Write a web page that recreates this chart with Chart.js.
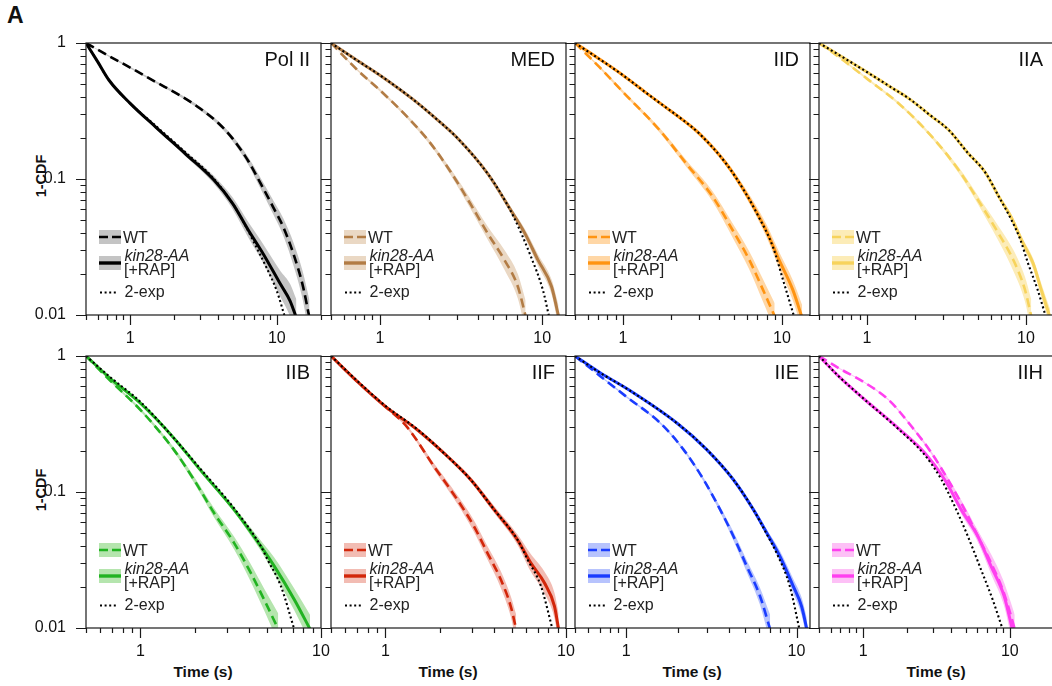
<!DOCTYPE html>
<html>
<head>
<meta charset="utf-8">
<script src="https://cdn.jsdelivr.net/npm/chart.js@4.4.0/dist/chart.umd.min.js"></script>
<style>
  body { margin: 0; width: 1052px; height: 686px; overflow: hidden; background: #fff; position: relative;
         font-family: 'Liberation Sans', Arial, Helvetica, sans-serif; }
  canvas.panel { position: absolute; }
  .lab { position: absolute; font-weight: bold; color: #111; white-space: nowrap; }
  .ytitle { transform: translate(-50%, -50%) rotate(-90deg); font-size: 14.5px; }
  .xtitle { transform: translate(-50%, -50%); font-size: 15.5px; }
</style>
</head>
<body>
<div class="lab" style="left:7px;top:2px;font-size:23px;">A</div>
<div class="lab ytitle" style="left:41px;top:176px;">1-CDF</div>
<div class="lab ytitle" style="left:41px;top:490px;">1-CDF</div>
<div class="lab xtitle" style="left:203px;top:672px;">Time (s)</div>
<div class="lab xtitle" style="left:448px;top:672px;">Time (s)</div>
<div class="lab xtitle" style="left:692px;top:672px;">Time (s)</div>
<div class="lab xtitle" style="left:936px;top:672px;">Time (s)</div>

<script>
// ---- panel setup ----
const panelTitles = ['Pol II', 'MED', 'IID', 'IIA', 'IIB', 'IIF', 'IIE', 'IIH'];
const panelXMax = [20, 14, 15, 15, 10, 10, 12, 20];
const lineColors = ['#000000', '#b27c45', '#ff9412', '#f7d35c', '#21b321', '#d2260a', '#1a3cff', '#ff3ff0'];
const bandColors = ['#c4c4c4', '#ead8c4', '#ffd7a6', '#fcecb8', '#b5e5ae', '#f2bcb3', '#b7c3fd', '#fdc0f6'];

const xTickValues = [0.5, 0.6, 0.7, 0.8, 0.9, 1, 2, 3, 4, 5, 6, 7, 8, 9, 10, 20];
const yTickValues = [0.01, 0.02, 0.03, 0.04, 0.05, 0.06, 0.07, 0.08, 0.09,
                     0.1, 0.2, 0.3, 0.4, 0.5, 0.6, 0.7, 0.8, 0.9, 1];
const xLabelValues = [1, 10];
const yLabelValues = [0.01, 0.1, 1];

// ---- Pol II ----
const polWtX  = [0.5, 0.72, 1.0, 1.5, 2.2, 3.0, 4.0, 5.0, 6.4, 7.7, 9.3, 11.1, 13, 15, 16.7];
const polWtY  = [1, 0.80, 0.66, 0.516, 0.41, 0.33, 0.257, 0.198, 0.135, 0.094, 0.064, 0.044, 0.028, 0.0166, 0.0095];
const polWtLo = [1, 0.79, 0.65, 0.506, 0.40, 0.32, 0.248, 0.189, 0.127, 0.086, 0.057, 0.038, 0.023, 0.013, 0.0068];
const polWtHi = [1, 0.81, 0.67, 0.526, 0.42, 0.34, 0.266, 0.207, 0.144, 0.103, 0.072, 0.051, 0.034, 0.021, 0.0128];
const polKinX  = [0.5, 0.6, 0.72, 1.0, 1.5, 2.4, 3.7, 5.0, 6.4, 8.1, 10.6, 12.3, 13.6];
const polKinY  = [1, 0.73, 0.53, 0.36, 0.24, 0.152, 0.099, 0.066, 0.042, 0.028, 0.0168, 0.0127, 0.0095];
const polKinLo = [1, 0.72, 0.52, 0.35, 0.233, 0.146, 0.093, 0.06, 0.037, 0.024, 0.0135, 0.0098, 0.007];
const polKinHi = [1, 0.74, 0.54, 0.37, 0.247, 0.159, 0.106, 0.073, 0.048, 0.033, 0.021, 0.017, 0.013];
const polFitX = [0.5, 0.6, 0.72, 1.0, 1.5, 2.4, 3.7, 5.0, 6.0, 7.0, 8.5, 10.0, 11.4];
const polFitY = [1, 0.73, 0.53, 0.36, 0.245, 0.156, 0.101, 0.066, 0.047, 0.034, 0.0223, 0.015, 0.0095];

// ---- MED ----
const medWtX  = [0.5, 0.73, 1.0, 1.5, 2.0, 2.7, 3.6, 4.6, 5.85, 7.07, 7.9];
const medWtY  = [1, 0.63, 0.45, 0.28, 0.19, 0.115, 0.066, 0.04, 0.0254, 0.0162, 0.0098];
const medWtLo = [1, 0.62, 0.44, 0.272, 0.183, 0.109, 0.061, 0.036, 0.0215, 0.0132, 0.0075];
const medWtHi = [1, 0.64, 0.46, 0.288, 0.197, 0.121, 0.072, 0.045, 0.030, 0.020, 0.0128];
const medKinX  = [0.5, 0.7, 1.0, 1.6, 2.2, 3.0, 4.6, 6.4, 7.8, 9.4, 11.4, 12.6];
const medKinY  = [1, 0.765, 0.58, 0.385, 0.28, 0.2, 0.11, 0.059, 0.04, 0.0254, 0.0162, 0.0098];
const medKinLo = [1, 0.76, 0.575, 0.38, 0.276, 0.196, 0.106, 0.056, 0.037, 0.023, 0.0142, 0.0082];
const medKinHi = [1, 0.77, 0.585, 0.39, 0.284, 0.204, 0.114, 0.062, 0.043, 0.028, 0.0183, 0.0118];
const medFitX = [0.5, 0.7, 1.0, 1.6, 2.2, 3.0, 4.6, 5.6, 6.7, 8.5, 10.1, 11.0];
const medFitY = [1, 0.765, 0.58, 0.385, 0.28, 0.2, 0.11, 0.077, 0.052, 0.027, 0.0152, 0.0098];

// ---- IID ----
const iidWtX  = [0.5, 0.71, 1.0, 1.7, 2.5, 3.67, 4.9, 6.24, 7.6, 9.0];
const iidWtY  = [1, 0.667, 0.437, 0.229, 0.13, 0.074, 0.042, 0.0253, 0.0153, 0.0098];
const iidWtLo = [1, 0.655, 0.425, 0.22, 0.123, 0.068, 0.037, 0.0215, 0.0125, 0.0078];
const iidWtHi = [1, 0.68, 0.45, 0.238, 0.138, 0.081, 0.047, 0.0292, 0.0183, 0.0122];
const iidKinX  = [0.5, 0.68, 1.0, 1.4, 1.87, 2.4, 3.03, 4.45, 5.94, 7.94, 9.6, 11.7, 13.4];
const iidKinY  = [1, 0.79, 0.58, 0.43, 0.335, 0.27, 0.215, 0.13, 0.078, 0.042, 0.0253, 0.0153, 0.0095];
const iidKinLo = [1, 0.78, 0.57, 0.42, 0.325, 0.261, 0.206, 0.124, 0.073, 0.038, 0.022, 0.0128, 0.0078];
const iidKinHi = [1, 0.80, 0.59, 0.44, 0.345, 0.279, 0.224, 0.137, 0.084, 0.047, 0.029, 0.018, 0.0118];
const iidFitX = [0.5, 0.68, 1.0, 1.4, 1.87, 2.4, 3.03, 4.45, 5.94, 7.0, 8.77, 10.3, 11.9];
const iidFitY = [1, 0.79, 0.58, 0.43, 0.335, 0.27, 0.215, 0.13, 0.078, 0.055, 0.0317, 0.0171, 0.0098];

// ---- IIA ----
const iiaWtX  = [0.5, 0.71, 1.0, 1.59, 2.57, 3.78, 5.16, 6.72, 8.34, 9.86, 10.8];
const iiaWtY  = [1, 0.746, 0.547, 0.358, 0.204, 0.116, 0.066, 0.0398, 0.0253, 0.0153, 0.0098];
const iiaWtLo = [1, 0.735, 0.537, 0.35, 0.198, 0.11, 0.061, 0.035, 0.021, 0.0125, 0.0075];
const iiaWtHi = [1, 0.755, 0.557, 0.366, 0.21, 0.122, 0.071, 0.045, 0.03, 0.019, 0.013];
const iiaKinX  = [0.5, 0.7, 1.0, 1.4, 1.84, 2.5, 3.27, 4.3, 5.54, 6.8, 8.1, 9.4, 11.1, 12.5, 14.2];
const iiaKinY  = [1, 0.79, 0.612, 0.477, 0.39, 0.294, 0.229, 0.156, 0.112, 0.073, 0.052, 0.0354, 0.0239, 0.0152, 0.0095];
const iiaKinLo = [1, 0.78, 0.6, 0.468, 0.382, 0.288, 0.224, 0.152, 0.108, 0.07, 0.049, 0.033, 0.0218, 0.0135, 0.0082];
const iiaKinHi = [1, 0.80, 0.622, 0.486, 0.398, 0.3, 0.234, 0.16, 0.116, 0.076, 0.055, 0.0378, 0.026, 0.017, 0.011];
const iiaFitX = [0.5, 0.7, 1.0, 1.4, 1.84, 2.5, 3.27, 4.3, 5.54, 6.8, 8.1, 9.2, 10.3, 11.8, 13.4];
const iiaFitY = [1, 0.79, 0.612, 0.477, 0.39, 0.294, 0.229, 0.156, 0.112, 0.073, 0.05, 0.036, 0.024, 0.0155, 0.0095];

// ---- IIB ----
const iibWtX  = [0.5, 0.68, 1.0, 1.53, 1.98, 2.56, 3.3, 4.08, 4.84, 5.8];
const iibWtY  = [1, 0.66, 0.402, 0.205, 0.123, 0.070, 0.0423, 0.0255, 0.0162, 0.0098];
const iibWtLo = [1, 0.65, 0.392, 0.198, 0.117, 0.065, 0.038, 0.022, 0.0135, 0.0078];
const iibWtHi = [1, 0.67, 0.412, 0.213, 0.13, 0.076, 0.047, 0.0295, 0.0195, 0.0128];
const iibKinX  = [0.5, 0.68, 1.0, 1.53, 2.15, 3.3, 4.64, 5.51, 7.11, 8.7];
const iibKinY  = [1, 0.686, 0.45, 0.25, 0.145, 0.0742, 0.040, 0.0285, 0.0162, 0.0098];
const iibKinLo = [1, 0.68, 0.445, 0.245, 0.141, 0.071, 0.037, 0.025, 0.0135, 0.0078];
const iibKinHi = [1, 0.692, 0.455, 0.255, 0.149, 0.078, 0.044, 0.033, 0.0195, 0.0125];
const iibFitX = [0.5, 0.68, 1.0, 1.53, 2.15, 3.3, 4.64, 5.06, 5.99, 7.11];
const iibFitY = [1, 0.70, 0.46, 0.25, 0.148, 0.076, 0.040, 0.0318, 0.0204, 0.0098];

// ---- IIF ----
const iifWtX  = [0.5, 0.7, 1.0, 1.32, 1.86, 2.5, 3.09, 3.67, 4.35, 4.94, 5.3];
const iifWtY  = [1, 0.648, 0.425, 0.3, 0.154, 0.088, 0.056, 0.0357, 0.0228, 0.0145, 0.0098];
const iifWtLo = [1, 0.64, 0.418, 0.293, 0.146, 0.082, 0.051, 0.032, 0.0198, 0.0122, 0.0078];
const iifWtHi = [1, 0.656, 0.432, 0.307, 0.162, 0.095, 0.062, 0.040, 0.0262, 0.0172, 0.0125];
const iifKinX  = [0.5, 0.7, 1.0, 1.5, 2.11, 2.97, 4.0, 5.38, 6.38, 7.59, 8.63, 9.1];
const iifKinY  = [1, 0.648, 0.425, 0.287, 0.193, 0.123, 0.0742, 0.0447, 0.0301, 0.0215, 0.0145, 0.0098];
const iifKinLo = [1, 0.64, 0.418, 0.28, 0.187, 0.118, 0.07, 0.041, 0.026, 0.018, 0.0118, 0.0078];
const iifKinHi = [1, 0.656, 0.432, 0.294, 0.199, 0.129, 0.079, 0.049, 0.035, 0.026, 0.0182, 0.0128];
const iifFitX = [0.5, 0.7, 1.0, 1.5, 2.11, 2.97, 4.0, 5.38, 6.13, 7.26, 8.42];
const iifFitY = [1, 0.655, 0.43, 0.29, 0.193, 0.123, 0.0742, 0.0447, 0.0318, 0.0204, 0.0098];

// ---- IIE ----
const iieWtX  = [0.5, 0.71, 1.0, 1.59, 2.17, 2.85, 3.56, 4.26, 5.1, 6.1, 7.0];
const iieWtY  = [1, 0.705, 0.503, 0.32, 0.205, 0.123, 0.0742, 0.0473, 0.0285, 0.0172, 0.0098];
const iieWtLo = [1, 0.698, 0.496, 0.314, 0.2, 0.119, 0.071, 0.044, 0.0258, 0.0148, 0.0078];
const iieWtHi = [1, 0.712, 0.51, 0.326, 0.21, 0.127, 0.078, 0.051, 0.0315, 0.0198, 0.0125];
const iieKinX  = [0.5, 0.71, 1.0, 1.99, 2.97, 4.26, 5.58, 6.69, 7.98, 9.56, 10.7, 11.5];
const iieKinY  = [1, 0.746, 0.579, 0.32, 0.205, 0.123, 0.0742, 0.050, 0.0337, 0.0203, 0.0145, 0.0098];
const iieKinLo = [1, 0.74, 0.572, 0.315, 0.2, 0.119, 0.071, 0.047, 0.031, 0.018, 0.0125, 0.0082];
const iieKinHi = [1, 0.752, 0.586, 0.325, 0.21, 0.127, 0.078, 0.053, 0.037, 0.023, 0.0168, 0.0118];
const iieFitX = [0.5, 0.71, 1.0, 1.99, 2.97, 4.26, 5.58, 6.69, 7.63, 9.13, 10.4];
const iieFitY = [1, 0.746, 0.579, 0.32, 0.205, 0.123, 0.0742, 0.049, 0.0357, 0.0203, 0.0098];

// ---- IIH ----
const iihWtX  = [0.5, 0.685, 1.0, 1.49, 2.14, 2.93, 3.79, 4.92, 6.05, 7.44, 8.93, 10.2, 10.8];
const iihWtY  = [1, 0.812, 0.648, 0.476, 0.303, 0.193, 0.123, 0.0742, 0.0473, 0.0301, 0.0192, 0.0122, 0.0098];
const iihWtLo = [1, 0.806, 0.642, 0.47, 0.297, 0.188, 0.118, 0.07, 0.043, 0.026, 0.016, 0.0098, 0.0078];
const iihWtHi = [1, 0.818, 0.654, 0.482, 0.309, 0.198, 0.128, 0.079, 0.052, 0.035, 0.023, 0.0152, 0.0125];
const iihKinX  = [0.5, 0.685, 1.0, 1.74, 2.64, 3.6, 4.66, 6.05, 7.44, 9.14, 10.4];
const iihKinY  = [1, 0.705, 0.489, 0.294, 0.193, 0.123, 0.0742, 0.0473, 0.0285, 0.0172, 0.0098];
const iihKinLo = [1, 0.7, 0.482, 0.288, 0.187, 0.117, 0.069, 0.043, 0.025, 0.0145, 0.0078];
const iihKinHi = [1, 0.71, 0.496, 0.3, 0.199, 0.13, 0.08, 0.052, 0.0325, 0.0205, 0.0125];
const iihFitX = [0.5, 0.685, 1.0, 1.74, 2.64, 3.42, 4.21, 5.17, 6.36, 7.63, 8.93];
const iihFitY = [1, 0.705, 0.489, 0.29, 0.186, 0.123, 0.0785, 0.0473, 0.0269, 0.0162, 0.0098];

const panels = [
  { wt: [polWtX, polWtY, polWtLo, polWtHi], kin: [polKinX, polKinY, polKinLo, polKinHi], fit: [polFitX, polFitY] },
  { wt: [medWtX, medWtY, medWtLo, medWtHi], kin: [medKinX, medKinY, medKinLo, medKinHi], fit: [medFitX, medFitY] },
  { wt: [iidWtX, iidWtY, iidWtLo, iidWtHi], kin: [iidKinX, iidKinY, iidKinLo, iidKinHi], fit: [iidFitX, iidFitY] },
  { wt: [iiaWtX, iiaWtY, iiaWtLo, iiaWtHi], kin: [iiaKinX, iiaKinY, iiaKinLo, iiaKinHi], fit: [iiaFitX, iiaFitY] },
  { wt: [iibWtX, iibWtY, iibWtLo, iibWtHi], kin: [iibKinX, iibKinY, iibKinLo, iibKinHi], fit: [iibFitX, iibFitY] },
  { wt: [iifWtX, iifWtY, iifWtLo, iifWtHi], kin: [iifKinX, iifKinY, iifKinLo, iifKinHi], fit: [iifFitX, iifFitY] },
  { wt: [iieWtX, iieWtY, iieWtLo, iieWtHi], kin: [iieKinX, iieKinY, iieKinLo, iieKinHi], fit: [iieFitX, iieFitY] },
  { wt: [iihWtX, iihWtY, iihWtLo, iihWtHi], kin: [iihKinX, iihKinY, iihKinLo, iihKinHi], fit: [iihFitX, iihFitY] },
];

// layout of the plot boxes on the page
const colLeft = [86, 331, 575, 819];
const rowTop = [43, 356];
const plotW = 235, plotH = 272;
const padL = 60, padT = 30, padR = 30, padB = 40;

const FONT = "'Liberation Sans', Arial, Helvetica, sans-serif";
Chart.defaults.font.family = FONT;
Chart.defaults.color = '#111';

function isMajor(v) {
  const l = Math.log10(v);
  return Math.abs(l - Math.round(l)) < 1e-9;
}
function pts(xs, ys) {
  return xs.map((x, k) => ({ x: x, y: ys[k] }));
}

// box, tick marks, panel name and legend
const framePlugin = {
  id: 'frame',
  afterDraw(chart, args, o) {
    const { ctx, chartArea: a, scales } = chart;
    const L = a.left, R = a.right, T = a.top, B = a.bottom;
    ctx.save();
    ctx.strokeStyle = '#1a1a1a';
    ctx.lineWidth = 1.2;
    ctx.setLineDash([]);
    ctx.strokeRect(L, T, R - L, B - T);
    ctx.beginPath();
    scales.x.ticks.forEach(t => {
      const px = Math.round(scales.x.getPixelForValue(t.value)) + 0.5;
      ctx.moveTo(px, B);
      ctx.lineTo(px, B + (isMajor(t.value) ? 10 : 5));
    });
    scales.y.ticks.forEach(t => {
      const py = Math.round(scales.y.getPixelForValue(t.value)) + 0.5;
      ctx.moveTo(L, py);
      ctx.lineTo(L - (isMajor(t.value) ? 10 : 5.5), py);
    });
    ctx.stroke();

    // panel name
    ctx.fillStyle = '#111';
    ctx.font = '20px ' + FONT;
    ctx.textAlign = 'right';
    ctx.textBaseline = 'alphabetic';
    ctx.fillText(o.title, R - 11, T + 23);

    // legend
    ctx.fillStyle = o.band;
    ctx.fillRect(L + 13, B - 85, 22, 14);
    ctx.fillRect(L + 13, B - 59, 22, 14);
    ctx.strokeStyle = o.line;
    ctx.lineWidth = 2.6;
    ctx.setLineDash([9, 4]);
    ctx.beginPath(); ctx.moveTo(L + 13, B - 78); ctx.lineTo(L + 35, B - 78); ctx.stroke();
    ctx.setLineDash([]);
    ctx.lineWidth = 3.4;
    ctx.beginPath(); ctx.moveTo(L + 13, B - 52); ctx.lineTo(L + 35, B - 52); ctx.stroke();
    ctx.strokeStyle = '#000';
    ctx.lineWidth = 2;
    ctx.setLineDash([2, 2.6]);
    ctx.beginPath(); ctx.moveTo(L + 14, B - 22.5); ctx.lineTo(L + 32, B - 22.5); ctx.stroke();
    ctx.setLineDash([]);

    ctx.fillStyle = '#222';
    ctx.textAlign = 'left';
    ctx.font = '16px ' + FONT;
    ctx.fillText('WT', L + 37, B - 72.5);
    ctx.fillText('[+RAP]', L + 38, B - 40);
    ctx.fillText('2-exp', L + 38.5, B - 18);
    ctx.font = 'italic 16px ' + FONT;
    ctx.fillText('kin28-AA', L + 38.5, B - 54.5);
    ctx.restore();
  }
};

panels.forEach((p, i) => {
  const col = i % 4, row = Math.floor(i / 4);
  const line = lineColors[i], band = bandColors[i];
  const cv = document.createElement('canvas');
  cv.className = 'panel';
  cv.width = padL + plotW + padR;
  cv.height = padT + plotH + padB;
  cv.style.left = (colLeft[col] - padL) + 'px';
  cv.style.top = (rowTop[row] - padT) + 'px';
  document.body.appendChild(cv);

  const base = { pointRadius: 0, pointHoverRadius: 0, cubicInterpolationMode: 'monotone', borderCapStyle: 'butt' };
  const edge = { borderWidth: 0, borderColor: 'rgba(0,0,0,0)' };

  new Chart(cv, {
    type: 'line',
    data: {
      datasets: [
        { ...base, ...edge, data: pts(p.wt[0], p.wt[2]), fill: false, order: 3 },
        { ...base, ...edge, data: pts(p.wt[0], p.wt[3]), fill: '-1', backgroundColor: band, order: 3 },
        { ...base, ...edge, data: pts(p.kin[0], p.kin[2]), fill: false, order: 3 },
        { ...base, ...edge, data: pts(p.kin[0], p.kin[3]), fill: '-1', backgroundColor: band, order: 3 },
        { ...base, data: pts(p.wt[0], p.wt[1]), borderColor: line, borderWidth: 2.6, borderDash: [9, 5], fill: false, order: 2 },
        { ...base, data: pts(p.kin[0], p.kin[1]), borderColor: line, borderWidth: 3, fill: false, order: 1 },
        { ...base, data: pts(p.fit[0], p.fit[1]), borderColor: '#000', borderWidth: 2.1, borderDash: [2, 2.6], fill: false, order: 0 },
      ]
    },
    options: {
      responsive: false,
      animation: false,
      events: [],
      layout: { padding: { left: 0, top: padT, right: padR, bottom: 0 } },
      plugins: {
        legend: { display: false },
        tooltip: { enabled: false },
        frame: { title: panelTitles[i], line: line, band: band },
      },
      scales: {
        x: {
          type: 'logarithmic',
          min: 0.5,
          max: panelXMax[i],
          grid: { display: false },
          border: { display: false },
          afterBuildTicks: s => { s.ticks = xTickValues.filter(v => v <= panelXMax[i]).map(v => ({ value: v })); },
          afterFit: s => { s.height = padB; },
          ticks: {
            autoSkip: false, maxRotation: 0, minRotation: 0, padding: 6,
            color: '#111', font: { size: 16 },
            callback: v => xLabelValues.includes(v) ? String(v) : '',
          },
        },
        y: {
          type: 'logarithmic',
          min: 0.01,
          max: 1,
          grid: { display: false },
          border: { display: false },
          afterBuildTicks: s => { s.ticks = yTickValues.map(v => ({ value: v })); },
          afterFit: s => { s.width = padL; },
          ticks: {
            autoSkip: false, padding: 12,
            color: '#111', font: { size: 16 },
            callback: v => (col === 0 && yLabelValues.includes(v)) ? String(v) : '',
          },
        },
      },
    },
    plugins: [framePlugin],
  });
});
</script>
</body>
</html>
